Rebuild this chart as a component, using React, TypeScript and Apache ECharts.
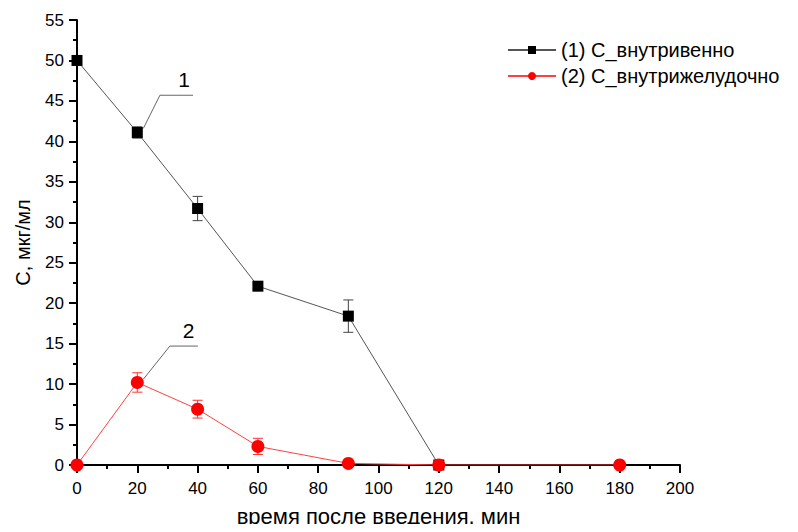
import React, { useEffect, useRef } from "react";
import * as echarts from "echarts";

const timePoints = [0, 20, 40, 60, 90, 120];
const ivValues = [50, 41.1, 31.7, 22.1, 18.4, 0];
const ivErrors = [0, 0.7, 1.5, 0.3, 2.0, 0];
const igTimes = [0, 20, 40, 60, 90, 120, 180];
const igValues = [0, 10.2, 6.9, 2.3, 0.2, 0, 0];
const igErrors = [0, 1.2, 1.1, 1.0, 0, 0, 0];
const seriesNames = ["(1) C_внутривенно", "(2) C_внутрижелудочно"];
// annotation anchors in data coordinates
const ann1 = { tip: [22, 41.6], elbow: [27.5, 45.7], end: [38.5, 45.7], label: [35.5, 46.3], text: "1" };
const ann2 = { tip: [22, 10.6], elbow: [30.8, 14.7], end: [40.1, 14.7], label: [37, 15.3], text: "2" };

const font = "Liberation Sans, Arial, sans-serif";

function errData(xs: number[], ys: number[], es: number[]) {
  return xs.map((x, i) => [x, ys[i] - es[i], ys[i] + es[i]]);
}

function errSeries(data: number[][], color: string) {
  return {
    type: "custom",
    silent: true,
    z: 1,
    data: data.filter((d) => d[2] - d[1] > 0),
    renderItem: (params: any, api: any) => {
      const x = api.value(0);
      const lo = api.coord([x, api.value(1)]);
      const hi = api.coord([x, api.value(2)]);
      const w = 5;
      const st = { stroke: color, lineWidth: 1 };
      return {
        type: "group",
        children: [
          { type: "line", shape: { x1: lo[0], y1: lo[1], x2: hi[0], y2: hi[1] }, style: st },
          { type: "line", shape: { x1: lo[0] - w, y1: lo[1], x2: lo[0] + w, y2: lo[1] }, style: st },
          { type: "line", shape: { x1: hi[0] - w, y1: hi[1], x2: hi[0] + w, y2: hi[1] }, style: st },
        ],
      };
    },
  };
}

export default function App() {
  const ref = useRef<HTMLDivElement>(null);
  useEffect(() => {
    if (!ref.current) return;
    const chart = echarts.init(ref.current, undefined, { renderer: "svg" });
    chart.setOption({
      animation: false,
      backgroundColor: "#fff",
      grid: { left: 77, right: 118, top: 20, bottom: 67, outerBoundsMode: "none", containLabel: false },
      legend: {
        orient: "vertical",
        left: 502,
        top: 35,
        itemWidth: 48,
        itemHeight: 10,
        itemGap: 6,
        textStyle: { fontFamily: font, fontSize: 20, color: "#000" },
        data: seriesNames,
      },
      xAxis: {
        type: "value",
        min: 0,
        max: 200,
        interval: 20,
        name: "время после введения, мин",
        nameLocation: "middle",
        nameGap: 40,
        nameTextStyle: { fontFamily: font, fontSize: 22, color: "#000" },
        axisLine: { lineStyle: { color: "#000", width: 2 } },
        axisTick: { length: 8, lineStyle: { color: "#000", width: 2 } },
        minorTick: { show: true, splitNumber: 2, length: 4, lineStyle: { color: "#000", width: 2 } },
        axisLabel: { fontFamily: font, fontSize: 17, color: "#000", margin: 15 },
        splitLine: { show: false },
      },
      yAxis: {
        type: "value",
        min: 0,
        max: 55,
        interval: 5,
        name: "C, мкг/мл",
        nameLocation: "middle",
        nameGap: 44,
        nameTextStyle: { fontFamily: font, fontSize: 20, color: "#000" },
        axisLine: { show: true, lineStyle: { color: "#000", width: 2 } },
        axisTick: { show: true, length: 8, lineStyle: { color: "#000", width: 2 } },
        minorTick: { show: true, splitNumber: 2, length: 4, lineStyle: { color: "#000", width: 2 } },
        axisLabel: { fontFamily: font, fontSize: 17, color: "#000", margin: 13 },
        splitLine: { show: false },
      },
      series: [
        errSeries(errData(timePoints, ivValues, ivErrors), "#444"),
        errSeries(errData(igTimes, igValues, igErrors), "#ff3030"),
        {
          name: seriesNames[0],
          type: "line",
          data: timePoints.map((t, i) => [t, ivValues[i]]),
          symbol: "rect",
          symbolSize: 11,
          itemStyle: { color: "#000" },
          lineStyle: { color: "#555", width: 1 },
          z: 3,
        },
        {
          name: seriesNames[1],
          type: "line",
          data: igTimes.map((t, i) => [t, igValues[i]]),
          symbol: "circle",
          symbolSize: 13,
          itemStyle: { color: "#ff0000" },
          lineStyle: { color: "#ff4040", width: 1 },
          z: 4,
        },
      ],
    });
    const px = (p: number[]) => chart.convertToPixel({ gridIndex: 0 }, p) as number[];
    const annGraphic = (a: any) => {
      const t = px(a.tip), e = px(a.elbow), n = px(a.end), l = px(a.label);
      return [
        { type: "polyline", shape: { points: [t, e, n] }, style: { stroke: "#666", lineWidth: 1, fill: null } },
        { type: "text", x: l[0], y: l[1], style: { text: a.text, font: `21px ${font}`, fill: "#000", align: "center", verticalAlign: "bottom" } },
      ];
    };
    chart.setOption({ graphic: [...annGraphic(ann1), ...annGraphic(ann2)] });
    return () => chart.dispose();
  }, []);
  return <div ref={ref} style={{ width: 798, height: 532, margin: -8 }} />;
}
